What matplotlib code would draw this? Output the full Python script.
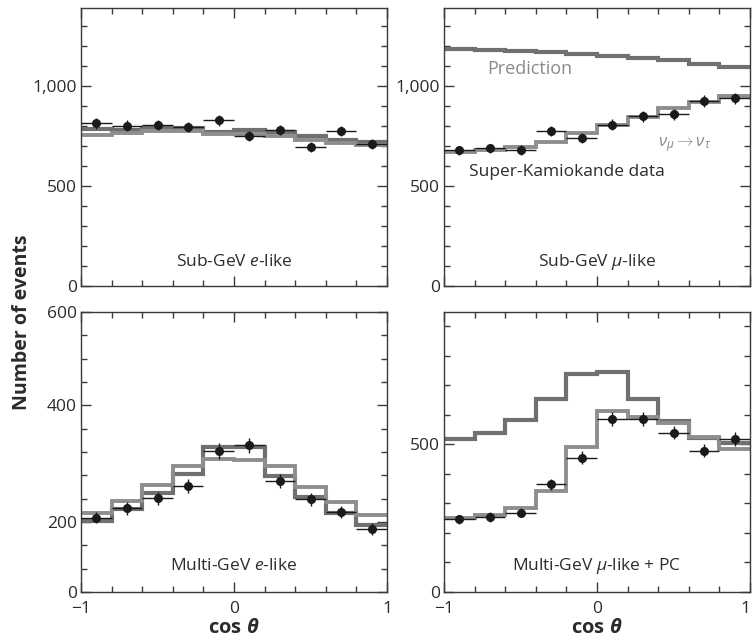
import matplotlib
matplotlib.use("Agg")
import matplotlib.pyplot as plt
import numpy as np
from matplotlib.ticker import FixedLocator, FixedFormatter, MultipleLocator

plt.rcParams['font.family'] = ['Open Sans', 'DejaVu Sans']
plt.rcParams['mathtext.fontset'] = 'custom'
plt.rcParams['mathtext.rm'] = 'Open Sans'
plt.rcParams['mathtext.it'] = 'Open Sans:italic'
plt.rcParams['mathtext.bf'] = 'Open Sans:italic:bold'

# ---------------- data ----------------
edges = [-1.0, -0.8, -0.6, -0.4, -0.2, 0.0, 0.2, 0.4, 0.6, 0.8, 1.0]
centers = [-0.9, -0.7, -0.5, -0.3, -0.1, 0.1, 0.3, 0.5, 0.7, 0.9]

# Sub-GeV e-like
sge_pred = [785, 780, 790, 788, 772, 778, 772, 748, 732, 718]
sge_osc = [757, 765, 776, 775, 758, 762, 752, 730, 715, 703]
sge_data = [813, 802, 806, 795, 828, 750, 780, 695, 773, 710]
sge_err = [26, 26, 26, 26, 26, 25, 26, 24, 25, 24]

# Sub-GeV mu-like
sgm_pred = [1185, 1180, 1175, 1168, 1160, 1150, 1138, 1128, 1110, 1095]
sgm_osc = [668, 680, 693, 722, 763, 805, 847, 888, 922, 950]
sgm_data = [678, 688, 680, 775, 742, 807, 848, 858, 925, 938]
sgm_err = [24, 24, 24, 26, 25, 26, 27, 27, 28, 28]

# Multi-GeV e-like
mge_pred = [153, 178, 213, 253, 311, 311, 249, 203, 169, 144]
mge_osc = [170, 194, 229, 271, 286, 283, 271, 224, 193, 165]
mge_data = [159, 179, 201, 228, 302, 314, 238, 199, 171, 135]
mge_err = [12, 13, 14, 15, 17, 17, 15, 14, 13, 12]

# Multi-GeV mu-like + PC
mgm_pred = [517, 537, 582, 654, 738, 745, 652, 580, 522, 503]
mgm_osc = [250, 261, 283, 343, 492, 613, 592, 571, 526, 484]
mgm_data = [246, 254, 269, 365, 455, 585, 587, 540, 479, 519]
mgm_err = [15, 16, 16, 19, 21, 24, 24, 23, 22, 23]

xtick_labels = ['\u22121', '0', '1']

panels = [
    dict(pred=sge_pred, osc=sge_osc, data=sge_data, err=sge_err, ylim=1390,
         yticks=[0, 500, 1000], ylabels=['0', '500', '1,000'], minor=100,
         label='Sub-GeV $e$-like', label_y=120, xlab=False),
    dict(pred=sgm_pred, osc=sgm_osc, data=sgm_data, err=sgm_err, ylim=1390,
         yticks=[0, 500, 1000], ylabels=['0', '500', '1,000'], minor=100,
         label='Sub-GeV $\\mu$-like', label_y=120, xlab=False),
    dict(pred=mge_pred, osc=mge_osc, data=mge_data, err=mge_err, ylim=600,
         yticks=[0, 150, 400, 600], ylabels=['0', '200', '400', '600'], minor=50,
         label='Multi-GeV $e$-like', label_y=56, xlab=True),
    dict(pred=mgm_pred, osc=mgm_osc, data=mgm_data, err=mgm_err, ylim=948,
         yticks=[0, 500], ylabels=['0', '500'], minor=100,
         label='Multi-GeV $\\mu$-like + PC', label_y=88, xlab=True),
]

W, H = 752, 640
fig = plt.figure(figsize=(W / 100, H / 100), dpi=100)

rects = [
    (81, 8, 387, 286), (444, 8, 750, 286),
    (81, 312, 387, 592), (444, 312, 750, 592),
]

pred_col = '#707070'
osc_col = '#8e8e8e'
txt_col = '#2b2b2b'
spine_col = '#3a3a3a'

axes = []
for i, ((x0, y0, x1, y1), p) in enumerate(zip(rects, panels)):
    ax = fig.add_axes([x0 / W, 1 - y1 / H, (x1 - x0) / W, (y1 - y0) / H])
    axes.append(ax)
    ax.stairs(p['pred'], edges, baseline=None, color=pred_col, lw=3.0, zorder=2)
    ax.stairs(p['osc'], edges, baseline=None, color=osc_col, lw=2.8, zorder=2)
    ax.errorbar(centers, p['data'], xerr=0.1, yerr=p['err'], fmt='o',
                color='#1a1a1a', ms=5.5, elinewidth=1.0, capsize=0, zorder=3)
    ax.set_xlim(-1, 1)
    ax.set_ylim(0, p['ylim'])
    ax.yaxis.set_major_locator(FixedLocator(p['yticks']))
    ax.yaxis.set_major_formatter(FixedFormatter(p['ylabels']))
    ax.yaxis.set_minor_locator(MultipleLocator(p['minor']))
    ax.xaxis.set_major_locator(FixedLocator([-1, 0, 1]))
    ax.xaxis.set_minor_locator(MultipleLocator(0.2))
    ax.tick_params(which='both', direction='in', top=True, right=True,
                   colors=spine_col, labelcolor=txt_col, labelsize=12.5, width=1.0)
    ax.tick_params(which='major', length=7)
    ax.tick_params(which='minor', length=4.5)
    ax.tick_params(axis='y', which='major', pad=3)
    ax.tick_params(axis='x', which='major', pad=6.5)
    for s in ax.spines.values():
        s.set_color(spine_col)
        s.set_linewidth(1.0)
    if p['xlab']:
        ax.set_xticklabels(xtick_labels)
        ax.set_xlabel('cos $\\mathbf{\\theta}$', fontsize=14.5, fontweight='bold',
                      color=txt_col, labelpad=1)
        if i == 3:
            ax.get_xticklabels()[-1].set_horizontalalignment('right')
    else:
        ax.set_xticklabels([])
    ax.text(0, p['label_y'], p['label'], ha='center', va='center',
            fontsize=12.5, color=txt_col)

# annotations in the sub-GeV mu-like panel
axes[1].text(-0.44, 1085, 'Prediction', ha='center', va='center',
             fontsize=13, color='#8a8a8a')
axes[1].text(-0.20, 570, 'Super-Kamiokande data', ha='center', va='center',
             fontsize=12.5, color=txt_col)
axes[1].text(0.575, 705, '$\\nu_\\mu \\rightarrow \\nu_\\tau$', ha='center', va='center',
             fontsize=12, color='#8a8a8a')

fig.text(22 / W, 1 - 322 / H, 'Number of events', rotation=90, ha='center',
         va='center', fontsize=14, fontweight='bold', color=txt_col)

fig.savefig('out.png', dpi=100)
